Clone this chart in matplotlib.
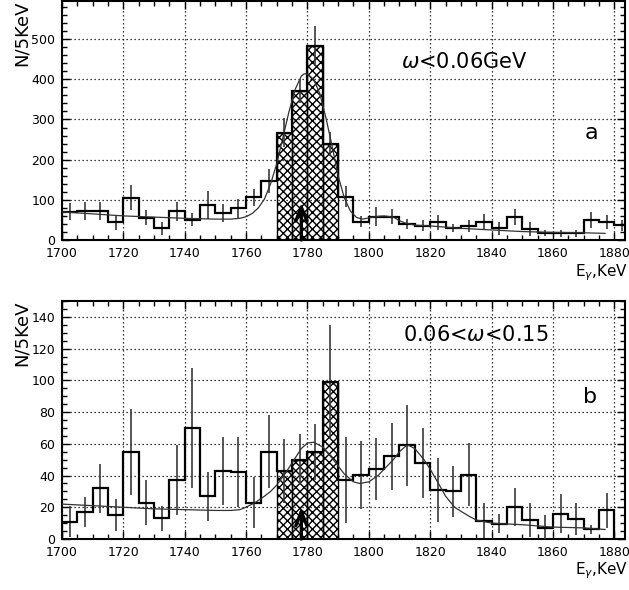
import numpy as np
import matplotlib
matplotlib.use("Agg")
import matplotlib.pyplot as plt
from matplotlib.ticker import MultipleLocator

# ---------------- data ----------------
bin_width = 5
edges_a = np.arange(1700, 1885 + 1, bin_width)          # 37 bins
counts_a = [70, 73, 73, 44, 105, 56, 29, 71, 51, 88, 68, 79, 106, 147,
            267, 371, 484, 240, 108, 46, 58, 58, 40, 36, 44, 29, 35, 46,
            29, 58, 27, 17, 17, 17, 50, 44, 37]
errors_a = [21, 22, 22, 19, 31, 18, 16, 23, 17, 35, 22, 23, 22, 31,
            36, 30, 50, 30, 26, 14, 23, 19, 13, 13, 19, 10, 14, 18,
            17, 20, 18, 8, 9, 9, 20, 17, 14]
fit_x_a = [1700, 1710, 1720, 1730, 1740, 1750, 1755, 1758, 1760, 1762, 1764,
           1766, 1768, 1770, 1772, 1774, 1776, 1778, 1779, 1780, 1782, 1784,
           1786, 1788, 1790, 1792, 1794, 1796, 1798, 1800, 1803, 1805, 1808,
           1810, 1812, 1815, 1820, 1830, 1840, 1850, 1860, 1870, 1877]
fit_y_a = [70, 65, 60, 57, 54, 52, 52, 54, 58, 66, 80, 102, 140, 190, 255,
           320, 375, 408, 414, 413, 400, 365, 305, 235, 160, 105, 72, 56, 52,
           55, 59, 60, 57, 48, 42, 37, 35, 29, 25, 21, 19, 18, 16.5]

edges_b = np.arange(1700, 1880 + 1, bin_width)          # 36 bins
counts_b = [11, 17, 32, 15, 55, 23, 13, 37, 70, 27, 43, 42, 23, 55,
            43, 50, 55, 99, 37, 40.5, 44, 52, 59, 48, 31, 30, 40.5, 11.5,
            9.5, 20, 12, 7, 16, 12.6, 6, 18]
errors_b = [9.5, 9.5, 15.5, 10, 27, 14, 8, 22, 38, 15.5, 21.5, 22, 16, 23,
            20, 16, 17.5, 36, 27, 21.5, 19.5, 21, 25.5, 22, 20, 16, 20, 11,
            6, 12, 11, 8, 12.5, 10, 3, 11]
fit_x_b = [1700, 1710, 1720, 1730, 1740, 1750, 1755, 1758, 1760, 1763, 1766,
           1768, 1770, 1773, 1775, 1778, 1780, 1782, 1785, 1788, 1790, 1792,
           1795, 1797, 1800, 1803, 1805, 1808, 1810, 1812, 1813, 1815, 1818,
           1820, 1823, 1825, 1828, 1830, 1833, 1835, 1840, 1850, 1860, 1870,
           1877]
fit_y_b = [22, 21, 20, 19, 18.5, 18, 18, 18.5, 20, 23, 27, 30, 34, 42, 48,
           57, 60.5, 61, 58, 51, 46, 41, 36, 35, 36, 40, 44, 50, 55, 58.5, 59,
           57, 50, 44, 34, 27, 20, 17.5, 14, 12, 10, 9, 7.5, 7, 6]

hatch_lo, hatch_hi = 1770, 1790
arrow_x = 1778
arrow_top_a = 93
arrow_top_b = 20

xticks = [1700, 1720, 1740, 1760, 1780, 1800, 1820, 1840, 1860, 1880]
label_a = r"$\omega$<0.06GeV"
label_b = r"0.06<$\omega$<0.15"
ylabel = "N/5KeV"
xlabel = r"E$_{\gamma}$,KeV"

# ---------------- plot ----------------
plt.rcParams["font.family"] = ["DejaVu Sans"]
plt.rcParams["mathtext.fontset"] = "dejavusans"
plt.rcParams["hatch.linewidth"] = 1.0

fig = plt.figure(figsize=(6.29, 5.90), dpi=100)
ax_a = fig.add_axes([62 / 629, 1 - 240 / 590, 563 / 629, 239 / 590])
ax_b = fig.add_axes([62 / 629, 1 - 539 / 590, 563 / 629, 238 / 590])


def draw(ax, edges, counts, errors, fx, fy, ymax, ymaj, ymin_, txt, letter,
         txt_pos, letter_pos, arrow_top):
    edges = np.asarray(edges, float)
    counts = np.asarray(counts, float)
    errors = np.asarray(errors, float)
    centers = 0.5 * (edges[:-1] + edges[1:])
    # hatched signal region
    m = (centers > hatch_lo) & (centers < hatch_hi)
    ax.bar(centers[m], counts[m], width=bin_width, facecolor="none",
           edgecolor="black", hatch="xxxx", linewidth=1.0, zorder=2)
    # histogram
    ax.stairs(counts, edges, color="black", linewidth=1.6, zorder=4)
    # error bars
    ax.vlines(centers, counts - errors, counts + errors, color="#3a3a3a",
              linewidth=1.2, zorder=3)
    # fit curve
    ax.plot(fx, fy, color="#333333", linewidth=0.9, zorder=5)
    # arrow
    ax.annotate("", xy=(arrow_x, arrow_top), xytext=(arrow_x, 0),
                arrowprops=dict(arrowstyle="->,head_length=1.0,head_width=0.4",
                                mutation_scale=10,
                                color="black", lw=2.4, shrinkA=0, shrinkB=0),
                zorder=6)
    ax.set_xlim(1700, 1883.5)
    ax.set_ylim(0, ymax)
    ax.set_xticks(xticks)
    ax.xaxis.set_minor_locator(MultipleLocator(5))
    ax.yaxis.set_major_locator(MultipleLocator(ymaj))
    ax.yaxis.set_minor_locator(MultipleLocator(ymin_))
    ax.tick_params(which="both", direction="in", top=True, right=True,
                   width=1.0, labelsize=9)
    ax.tick_params(which="major", length=6, pad=5)
    ax.tick_params(which="minor", length=3.5)
    ax.grid(True, which="major", color="black", linestyle=(0, (1, 2.2)),
            linewidth=0.9)
    ax.set_axisbelow(True)
    for s in ax.spines.values():
        s.set_linewidth(1.5)
    ax.text(txt_pos[0], txt_pos[1], txt, fontsize=15, ha="center",
            va="center", zorder=7)
    ax.text(letter_pos[0], letter_pos[1], letter, fontsize=16, ha="center",
            va="center", zorder=7)
    ax.set_ylabel(ylabel, loc="top", fontsize=13)
    ax.yaxis.set_label_coords(-0.056, 1.0)
    ax.set_xlabel(xlabel, loc="right", fontsize=11, labelpad=1)
    ax.xaxis.set_label_coords(1.006, -0.092)


draw(ax_a, edges_a, counts_a, errors_a, fit_x_a, fit_y_a, 595, 100, 20,
     label_a, "a", (1831, 443), (1872.5, 266), arrow_top_a)
draw(ax_b, edges_b, counts_b, errors_b, fit_x_b, fit_y_b, 150, 20, 5,
     label_b, "b", (1835, 128.5), (1872, 89.5), arrow_top_b)

fig.savefig("out.png", dpi=100)
